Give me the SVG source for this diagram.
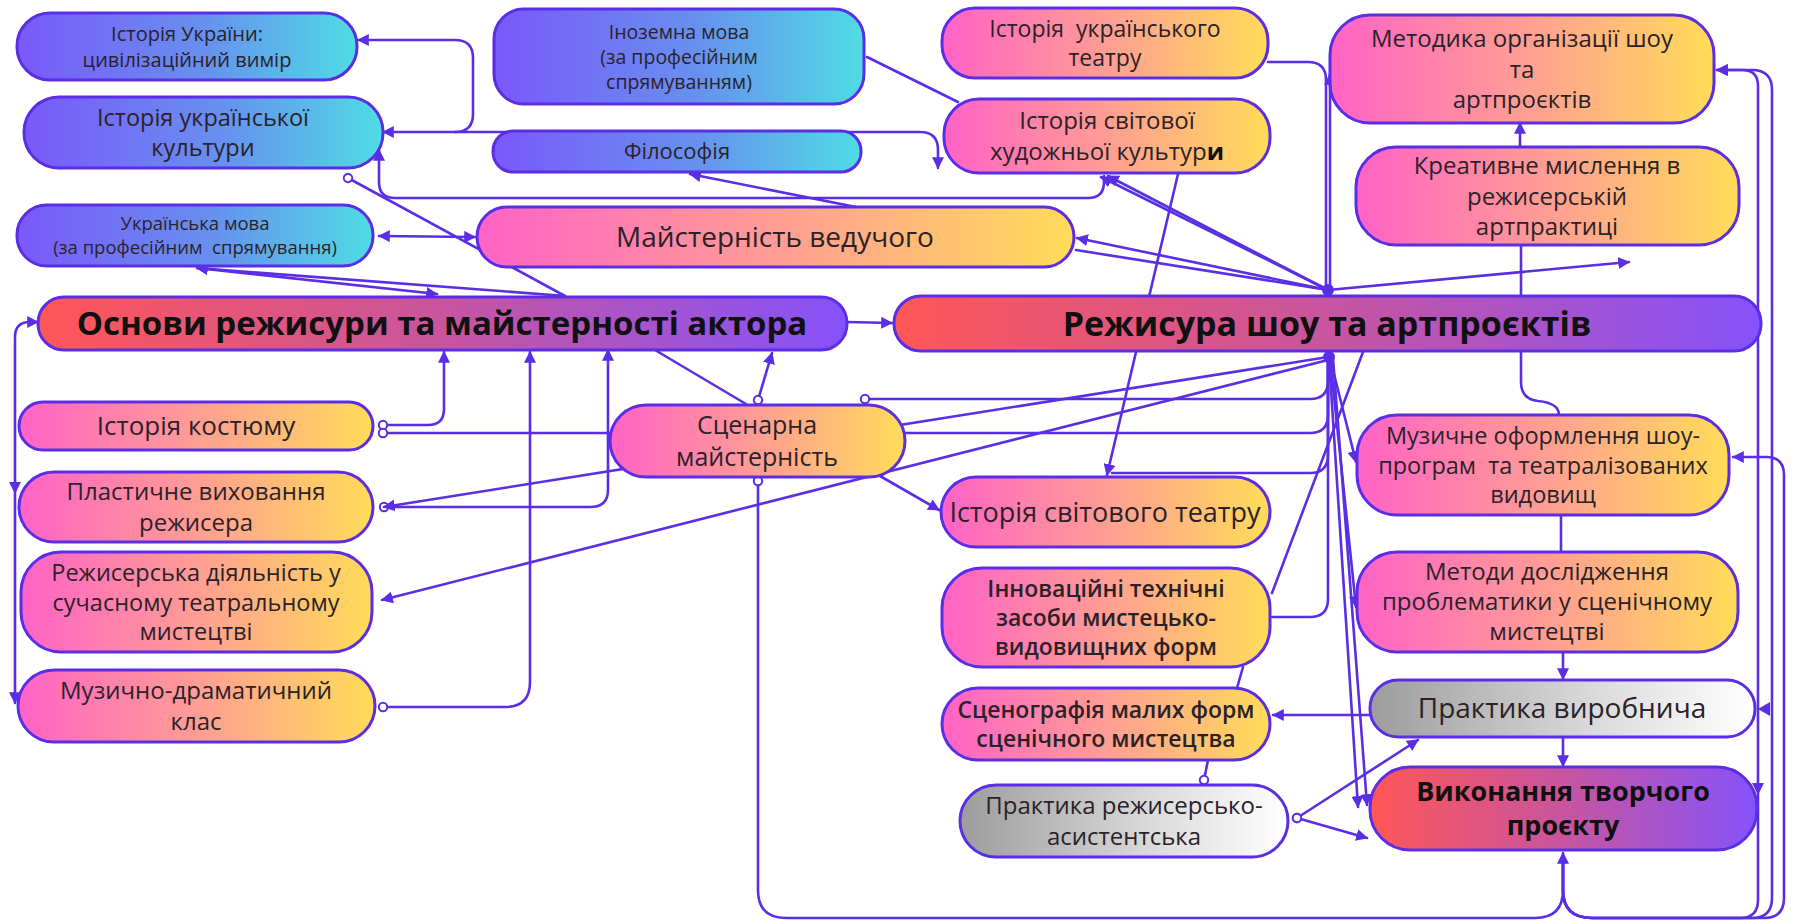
<svg xmlns="http://www.w3.org/2000/svg" width="1793" height="921" viewBox="0 0 1793 921">
<style>
.n{stroke:#5b2ee6;stroke-width:3}
.t{font-family:"Open Sans","Noto Sans","DejaVu Sans",sans-serif;fill:#2a2228;text-anchor:middle}
.b{font-weight:700;fill:#111}
.s{font-weight:600}
.c{fill:none;stroke:#5b2ee6;stroke-width:2.6;stroke-linecap:round;stroke-linejoin:round}
.a{marker-end:url(#ar)}
.as{marker-start:url(#ar)}
.ce{marker-end:url(#ci)}
.cs{marker-start:url(#ci)}
.tri{fill:#5b2ee6}
</style>
<defs>
<linearGradient id="gPC" x1="0" y1="0" x2="1" y2="0"><stop offset="0" stop-color="#7a58fa"/><stop offset="0.55" stop-color="#6790ef"/><stop offset="1" stop-color="#4fdce4"/></linearGradient>
<linearGradient id="gPY" x1="0" y1="0" x2="1" y2="0"><stop offset="0" stop-color="#ff62c6"/><stop offset="0.5" stop-color="#ff9d94"/><stop offset="1" stop-color="#ffdc58"/></linearGradient>
<linearGradient id="gRP" x1="0" y1="0" x2="1" y2="0"><stop offset="0" stop-color="#ff5656"/><stop offset="0.5" stop-color="#c8559f"/><stop offset="1" stop-color="#8552fb"/></linearGradient>
<linearGradient id="gGW" x1="0" y1="0" x2="1" y2="0"><stop offset="0" stop-color="#9c9c9c"/><stop offset="0.6" stop-color="#dcdcdc"/><stop offset="1" stop-color="#ffffff"/></linearGradient>
<marker id="ar" viewBox="0 0 10 10" refX="9" refY="5" markerWidth="12" markerHeight="12" markerUnits="userSpaceOnUse" orient="auto-start-reverse"><path d="M0,0 L10,5 L0,10 Z" fill="#5b2ee6"/></marker>
<marker id="ci" viewBox="0 0 12 12" refX="6" refY="6" markerWidth="12" markerHeight="12" markerUnits="userSpaceOnUse" orient="auto"><circle cx="6" cy="6" r="4.2" fill="#fff" stroke="#5b2ee6" stroke-width="2"/></marker>
</defs>
<rect width="1793" height="921" fill="#ffffff"/>

<g id="connectors">
<path class="c as a" d="M383,132 H920 Q938,132 938,150 V168"/>
<path class="c as" d="M358,40 H455 Q473,40 473,58 V114 Q473,132 455,132"/>
<path class="c as" d="M379,150 V182 Q379,198 395,198 H1088 Q1104,198 1104,182 V176"/>
<path class="c" d="M867,57 L958,102"/>
<path class="c ce" d="M565,296 L348,178"/>
<path class="c a" d="M565,296 L197,268"/>
<path class="c a as" d="M197,268 L437,294"/>
<path class="c a as" d="M379,236 L475,237"/>
<path class="c a" d="M856,207 L690,174"/>
<path class="c a" d="M1328,290 L1077,238"/>
<path class="c" d="M1328,290 L1076,250"/>
<path class="c a" d="M1328,290 L1101,177"/>
<path class="c a" d="M1330,291 L1108,176"/>
<path class="c a" d="M1178,174 L1107,475"/>
<path class="c" d="M1268,62 H1308 Q1326,62 1326,80 V290"/>
<path class="c a" d="M1330,290 V74"/>
<path class="c a" d="M1520,147 V123"/>
<path class="c" d="M1521,245 V296"/>
<path class="c" d="M1521,352 V382 Q1521,399 1538,401 Q1559,403 1559,415"/>
<path class="c a" d="M1328,290 L1629,262"/>
<path class="c a" d="M1563,862 V890 Q1563,918 1592,918 H1740 Q1758,918 1758,900 V86 Q1758,70 1742,70 H1717"/>
<path class="c a" d="M1563,862 V890 Q1563,918 1592,918 H1752 Q1772,918 1772,898 V90 Q1772,70 1752,70 H1717"/>
<path class="c a" d="M1563,862 V890 Q1563,918 1592,918 H1764 Q1784,918 1784,898 V475 Q1784,457 1766,457 H1733"/>
<path class="c cs a" d="M758,481 V890 Q758,918 786,918 H1535 Q1563,918 1563,890 V853"/>
<path class="tri" d="M1770,702 L1758,709 L1770,716 Z"/>
<path class="tri" d="M1752,783 L1764,783 L1758,795 Z"/>
<path class="c as a" d="M38,322 H30 Q15,322 15,337 V703"/>
<path class="tri" d="M9,482 L21,482 L15,494 Z"/>
<path class="c cs a" d="M383,425 H428 Q444,425 444,409 V352"/>
<path class="c cs" d="M383,433 H1310 Q1328,433 1328,415 V358"/>
<path class="c as ce" d="M608,350 V490 Q608,507 590,507 H384"/>
<path class="c a" d="M1328,357 L384,507"/>
<path class="c a" d="M1328,360 L382,600"/>
<path class="c cs a" d="M383,707 H505 Q530,707 530,682 V352"/>
<path class="c a" d="M847,322 L892,323"/>
<path class="c" d="M655,350 L746,404"/>
<path class="c cs a" d="M758,400 L772,353"/>
<path class="c cs" d="M865,399 H1310 Q1328,399 1328,381 V358"/>
<path class="c a" d="M880,476 L939,510"/>
<path class="c" d="M1328,358 V455 Q1328,473 1310,473 H1112"/>
<path class="c" d="M1272,617 H1310 Q1328,617 1328,599 V358"/>
<path class="c" d="M1363,352 L1272,593"/>
<path class="c a" d="M1330,358 L1356,462"/>
<path class="c a" d="M1330,358 L1356,607"/>
<path class="c a" d="M1329,358 L1358,807"/>
<path class="c a" d="M1333,358 L1367,805"/>
<path class="c" d="M1561,515 V552"/>
<path class="c a" d="M1563,652 V679"/>
<path class="c a" d="M1563,737 V766"/>
<path class="c a" d="M1370,715 L1273,715"/>
<path class="c" d="M1243,667 L1237,688"/>
<path class="c ce" d="M1208,760 L1204,780"/>
<path class="c cs a" d="M1297,818 L1418,740"/>
<path class="c cs a" d="M1297,818 L1367,838"/>
<circle class="tri" cx="1328" cy="290" r="6"/>
<circle class="tri" cx="1329" cy="357" r="6"/>
</g>

<g id="n-istoriya-ukrainy"><rect class="n" x="17" y="13" width="340" height="67" rx="33" fill="url(#gPC)"/>
<text class="t" x="187" y="41" font-size="20"><tspan x="187">Історія України:</tspan><tspan x="187" dy="25.5">цивілізаційний вимір</tspan></text></g>

<g id="n-inozemna"><rect class="n" x="494" y="9" width="370" height="95" rx="30" fill="url(#gPC)"/>
<text class="t" x="679" y="39" font-size="19.5"><tspan x="679">Іноземна мова</tspan><tspan x="679" dy="25">(за професійним</tspan><tspan x="679" dy="25">спрямуванням)</tspan></text></g>

<g id="n-teatr-ukr"><rect class="n" x="942" y="8" width="326" height="70" rx="33" fill="url(#gPY)"/>
<text class="t" x="1105" y="37" font-size="23" xml:space="preserve"><tspan x="1105">Історія  українського</tspan><tspan x="1105" dy="29">театру</tspan></text></g>

<g id="n-metodyka"><rect class="n" x="1330" y="15" width="384" height="108" rx="40" fill="url(#gPY)"/>
<text class="t" x="1522" y="47" font-size="24"><tspan x="1522">Методика організації шоу</tspan><tspan x="1522" dy="30.5">та</tspan><tspan x="1522" dy="30.5">артпроєктів</tspan></text></g>

<g id="n-kultura-ukr"><rect class="n" x="24" y="97" width="359" height="71" rx="35" fill="url(#gPC)"/>
<text class="t" x="203" y="126" font-size="23.5"><tspan x="203">Історія української</tspan><tspan x="203" dy="29.5">культури</tspan></text></g>

<g id="n-filosofiya"><rect class="n" x="493" y="131" width="368" height="41" rx="20" fill="url(#gPC)"/>
<text class="t" x="677" y="159" font-size="22">Філософія</text></g>

<g id="n-svit-kultura"><rect class="n" x="944" y="99" width="326" height="74" rx="35" fill="url(#gPY)"/>
<text class="t" x="1107" y="129" font-size="24"><tspan x="1107">Історія світової</tspan><tspan x="1107" dy="30.5">художньої культур<tspan class="b">и</tspan></tspan></text></g>

<g id="n-kreatyvne"><rect class="n" x="1356" y="147" width="383" height="98" rx="40" fill="url(#gPY)"/>
<text class="t" x="1547" y="174" font-size="24"><tspan x="1547">Креативне мислення в</tspan><tspan x="1547" dy="30.5">режисерській</tspan><tspan x="1547" dy="30.5">артпрактиці</tspan></text></g>

<g id="n-ukr-mova"><rect class="n" x="17" y="205" width="356" height="61" rx="30" fill="url(#gPC)"/>
<text class="t" x="195" y="230" font-size="18.5" xml:space="preserve"><tspan x="195">Українська мова</tspan><tspan x="195" dy="23.5">(за професійним  спрямування)</tspan></text></g>

<g id="n-maisternist"><rect class="n" x="477" y="207" width="597" height="60" rx="30" fill="url(#gPY)"/>
<text class="t" x="775" y="247" font-size="28">Майстерність ведучого</text></g>

<g id="n-osnovy"><rect class="n" x="38" y="297" width="809" height="53" rx="26" fill="url(#gRP)"/>
<text class="t b" x="442" y="335" font-size="33">Основи режисури та майстерності актора</text></g>

<g id="n-rezhysura"><rect class="n" x="894" y="296" width="867" height="55" rx="27" fill="url(#gRP)"/>
<text class="t b" x="1327" y="336" font-size="34">Режисура шоу та артпроєктів</text></g>

<g id="n-kostyum"><rect class="n" x="19" y="402" width="354" height="48" rx="24" fill="url(#gPY)"/>
<text class="t" x="196" y="435" font-size="26">Історія костюму</text></g>

<g id="n-stsenarna"><rect class="n" x="610" y="405" width="295" height="72" rx="36" fill="url(#gPY)"/>
<text class="t" x="757" y="434" font-size="25"><tspan x="757">Сценарна</tspan><tspan x="757" dy="31.5">майстерність</tspan></text></g>

<g id="n-plastychne"><rect class="n" x="19" y="472" width="354" height="70" rx="35" fill="url(#gPY)"/>
<text class="t" x="196" y="500" font-size="24"><tspan x="196">Пластичне виховання</tspan><tspan x="196" dy="30.5">режисера</tspan></text></g>

<g id="n-svit-teatr"><rect class="n" x="941" y="477" width="329" height="70" rx="35" fill="url(#gPY)"/>
<text class="t" x="1105" y="522" font-size="27">Історія світового театру</text></g>

<g id="n-muzychne"><rect class="n" x="1357" y="415" width="372" height="100" rx="40" fill="url(#gPY)"/>
<text class="t" x="1543" y="444" font-size="23.5" xml:space="preserve"><tspan x="1543">Музичне оформлення шоу-</tspan><tspan x="1543" dy="29.5">програм  та театралізованих</tspan><tspan x="1543" dy="29.5">видовищ</tspan></text></g>

<g id="n-rezh-diyalnist"><rect class="n" x="21" y="552" width="351" height="100" rx="40" fill="url(#gPY)"/>
<text class="t" x="196" y="581" font-size="23.5"><tspan x="196">Режисерська діяльність у</tspan><tspan x="196" dy="29.5">сучасному театральному</tspan><tspan x="196" dy="29.5">мистецтві</tspan></text></g>

<g id="n-innovatsiyni"><rect class="n" x="942" y="568" width="328" height="99" rx="40" fill="url(#gPY)"/>
<text class="t s" x="1106" y="597" font-size="23"><tspan x="1106">Інноваційні технічні</tspan><tspan x="1106" dy="29">засоби мистецько-</tspan><tspan x="1106" dy="29">видовищних форм</tspan></text></g>

<g id="n-metody"><rect class="n" x="1357" y="552" width="381" height="100" rx="40" fill="url(#gPY)"/>
<text class="t" x="1547" y="580" font-size="24"><tspan x="1547">Методи дослідження</tspan><tspan x="1547" dy="30.2">проблематики у сценічному</tspan><tspan x="1547" dy="30.2">мистецтві</tspan></text></g>

<g id="n-muz-dram"><rect class="n" x="18" y="670" width="357" height="72" rx="36" fill="url(#gPY)"/>
<text class="t" x="196" y="699" font-size="24"><tspan x="196">Музично-драматичний</tspan><tspan x="196" dy="30.5">клас</tspan></text></g>

<g id="n-stsenografiya"><rect class="n" x="942" y="688" width="328" height="72" rx="36" fill="url(#gPY)"/>
<text class="t s" x="1106" y="718" font-size="23"><tspan x="1106">Сценографія малих форм</tspan><tspan x="1106" dy="29">сценічного мистецтва</tspan></text></g>

<g id="n-praktyka-vyr"><rect class="n" x="1370" y="680" width="385" height="57" rx="28" fill="url(#gGW)"/>
<text class="t" x="1562" y="718" font-size="28">Практика виробнича</text></g>

<g id="n-praktyka-asyst"><rect class="n" x="960" y="785" width="328" height="72" rx="36" fill="url(#gGW)"/>
<text class="t" x="1124" y="814" font-size="24"><tspan x="1124">Практика режисерсько-</tspan><tspan x="1124" dy="30.5">асистентська</tspan></text></g>

<g id="n-vykonannya"><rect class="n" x="1370" y="767" width="387" height="83" rx="40" fill="url(#gRP)"/>
<text class="t b" x="1563" y="801" font-size="27"><tspan x="1563">Виконання творчого</tspan><tspan x="1563" dy="34">проєкту</tspan></text></g>
</svg>
